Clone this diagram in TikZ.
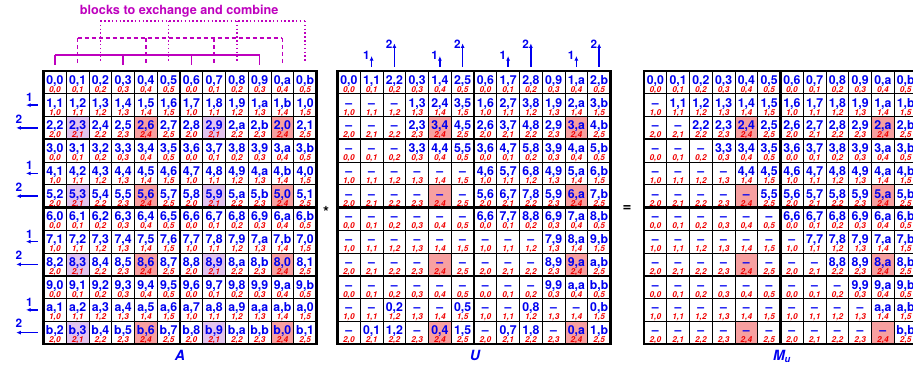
\documentclass[tikz,border=0pt]{standalone}
\usepackage{fontspec}
\setmainfont{TeX Gyre Heros}
\usetikzlibrary{arrows.meta}

\definecolor{idxblue}{RGB}{0,0,240}
\definecolor{subred}{RGB}{240,0,0}
\definecolor{blockmag}{RGB}{190,0,190}
\definecolor{hired}{RGB}{247,160,160}
\definecolor{hipurple}{RGB}{226,196,238}
\newcommand\hexd[1]{\ifcase#1 0\or 1\or 2\or 3\or 4\or 5\or 6\or 7\or 8\or 9\or a\or b\fi}

\begin{document}
\begin{tikzpicture}[
  x=0.3mm, y=-0.3mm,
  cell/.style     ={rectangle, draw, line width=0.8pt, fill=white, minimum size=6.825mm, inner sep=0pt, outer sep=0pt},
  idx/.style      ={text=idxblue, font=\bfseries\fontsize{10.5}{12}\selectfont, inner sep=0pt, anchor=base},
  sub/.style      ={text=subred, font=\bfseries\itshape\fontsize{7}{8}\selectfont, inner sep=0pt, anchor=base},
  blockline/.style={line width=2.1pt},
  num/.style      ={text=idxblue, font=\bfseries\fontsize{10}{12}\selectfont, inner sep=0pt},
  arrow/.style    ={-{Latex[length=1.4mm, width=1.2mm]}, idxblue, line width=1.1pt},
  brk/.style      ={blockmag, line width=1.1pt},
  brkdash/.style  ={brk, dash pattern=on 1.3mm off 0.8mm},
  brkdot/.style   ={brk, dash pattern=on 0.45mm off 0.7mm},
  title/.style    ={text=idxblue, font=\bfseries\itshape\fontsize{12}{14}\selectfont, inner sep=0pt, anchor=base},
  op/.style       ={font=\bfseries\fontsize{13}{14}\selectfont, inner sep=0pt},
]
\clip (0,0) rectangle (913,367);

% matrix A: row i shifted left by (i mod 3)
\foreach \row in {0,...,11}{
  \foreach \col in {0,...,11}{
    \pgfmathtruncatemacro\rmod{mod(\row,3)}
    \pgfmathtruncatemacro\cmod{mod(\col,6)}
    \pgfmathtruncatemacro\scol{mod(\col+\rmod,12)}
    \def\fillc{white}
    \ifnum\rmod=2 \ifnum\cmod=1 \def\fillc{hipurple}\fi \ifnum\cmod=4 \def\fillc{hired}\fi \fi
    \node[cell, fill=\fillc] (A-\row-\col) at (54.875+\col*22.75, 82.375+\row*22.75) {};
    \path (A-\row-\col.center) ++(0,1.9) node[idx] (A-\row-\col-i) {\hexd{\row},\hexd{\scol}};
    \path (A-\row-\col.center) ++(0,10.1) node[sub] (A-\row-\col-s) {\hexd{\rmod},\hexd{\cmod}};
  }
}

% matrix U
\foreach \row in {0,...,11}{
  \foreach \col in {0,...,11}{
    \pgfmathtruncatemacro\rmod{mod(\row,3)}
    \pgfmathtruncatemacro\cmod{mod(\col,6)}
    \pgfmathtruncatemacro\urow{mod(\row+mod(\col,3),12)}
    \def\fillc{white}
    \ifnum\rmod=2 \ifnum\cmod=4 \def\fillc{hired}\fi \fi
    \ifnum\urow>\col \def\utext{--}\else \def\utext{\hexd{\urow},\hexd{\col}}\fi
    \node[cell, fill=\fillc] (U-\row-\col) at (348.875+\col*22.75, 82.375+\row*22.75) {};
    \path (U-\row-\col.center) ++(0,1.9) node[idx] (U-\row-\col-i) {\utext};
    \path (U-\row-\col.center) ++(0,10.1) node[sub] (U-\row-\col-s) {\hexd{\rmod},\hexd{\cmod}};
  }
}

% matrix M_u
\foreach \row in {0,...,11}{
  \foreach \col in {0,...,11}{
    \pgfmathtruncatemacro\rmod{mod(\row,3)}
    \pgfmathtruncatemacro\cmod{mod(\col,6)}
    \def\fillc{white}
    \ifnum\rmod=2 \ifnum\cmod=4 \def\fillc{hired}\fi \fi
    \ifnum\row>\col \def\mtext{--}\else \def\mtext{\hexd{\row},\hexd{\col}}\fi
    \node[cell, fill=\fillc] (M-\row-\col) at (655.375+\col*22.75, 82.375+\row*22.75) {};
    \path (M-\row-\col.center) ++(0,1.9) node[idx] (M-\row-\col-i) {\mtext};
    \path (M-\row-\col.center) ++(0,10.1) node[sub] (M-\row-\col-s) {\hexd{\rmod},\hexd{\cmod}};
  }
}

% block borders
\foreach \m in {A,U,M}{
  \draw[blockline] (\m-0-5.north east) -- (\m-11-5.south east);
  \foreach \r in {2,5,8} \draw[blockline] (\m-\r-0.south west) -- (\m-\r-11.south east);
  \draw[blockline] (\m-0-0.north west) rectangle (\m-11-11.south east);
}

% row shifts of A
\foreach \row in {1,4,7,10}{
  \draw[arrow] ([xshift=-1.8mm]A-\row-0.west) -- ([xshift=-5.25mm]A-\row-0.west);
  \node[num] (A-\row-shift) at ([xshift=-4.2mm, yshift=2.3mm]A-\row-0.west) {1};
}
\foreach \row in {2,5,8,11}{
  \draw[arrow] ([xshift=-1.75mm]A-\row-0.west) -- ([xshift=-8.2mm]A-\row-0.west);
  \node[num] (A-\row-shift) at ([xshift=-7.4mm, yshift=2.7mm]A-\row-0.west) {2};
}

% column shifts of U
\foreach \col in {1,4,7,10}{
  \draw[arrow] ([yshift=1.3mm]U-0-\col.north) -- ([yshift=4.5mm]U-0-\col.north);
  \node[num] (U-\col-shift) at ([xshift=-1.55mm, yshift=4.8mm]U-0-\col.north) {1};
}
\foreach \col in {2,5,8,11}{
  \draw[arrow] ([yshift=1.3mm]U-0-\col.north) -- ([yshift=8.3mm]U-0-\col.north);
  \node[num] (U-\col-shift) at ([xshift=-1.55mm, yshift=7.95mm]U-0-\col.north) {2};
}

% blocks to exchange
\foreach \k/\sty/\hgt/\low in {0/brk/4.8mm/1.8mm, 1/brkdash/9.9mm/1.8mm, 2/brkdot/15mm/2.4mm}{
  \pgfmathtruncatemacro\kend{\k+9}
  \draw[\sty] ([yshift=\hgt]A-0-\k.north) -- ([yshift=\hgt]A-0-\kend.north);
  \foreach \t in {0,3,6,9}{
    \pgfmathtruncatemacro\tc{\k+\t}
    \draw[\sty] ([yshift=\hgt]A-0-\tc.north) -- ([yshift=\low]A-0-\tc.north);
  }
}
\node[text=blockmag, font=\bfseries\fontsize{10.8}{12}\selectfont, inner sep=0pt, anchor=base] (blocks) at (179.2,15) {blocks to exchange and combine};

\node[op] (times) at (326,211.5) {*};
\node[op] (equals) at (627,209) {=};

\node[title] (A-name) at (180,360) {A};
\node[title] (U-name) at (475,360) {U};
\node[title] (M-name) at (782,360) {M\textsubscript{u}};
\end{tikzpicture}
\end{document}
